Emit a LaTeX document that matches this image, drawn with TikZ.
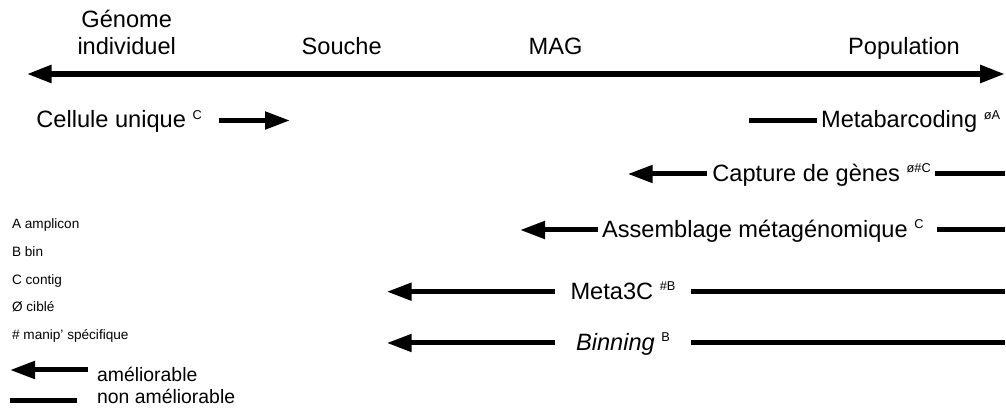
\documentclass[tikz,border=0pt]{standalone}
\usepackage{fontspec}
\setmainfont{Liberation Sans}
\usetikzlibrary{arrows.meta}

\newcommand{\expo}[1]{\raisebox{4.4pt}{\fontsize{6.4}{6.4}\selectfont #1}}

\begin{document}
\begin{tikzpicture}[x=0.5pt,y=-0.5pt,
  lbl/.style={font=\fontsize{11.8}{13.5}\selectfont,inner sep=0pt,anchor=west,text height=1.4ex,text depth=0pt},
  hdr/.style={font=\fontsize{11.8}{13.5}\selectfont,inner sep=0pt,anchor=base,align=center},
  key/.style={font=\fontsize{6.8}{8}\selectfont,inner sep=0pt,anchor=base west},
  leg/.style={font=\fontsize{9.7}{11}\selectfont,inner sep=0pt,anchor=base west},
  bar/.style={line width=2.5pt},
  ar/.style={bar,-{Triangle[length=12.5pt,width=8.5pt]}},
]
\useasboundingbox (0,0) rectangle (1006,410);

% echelle
\coordinate (axL) at (26.7,74);
\coordinate (axR) at (1005,74);
\draw[line width=2.8pt,{Triangle[length=12.5pt,width=8.5pt]}-{Triangle[length=12.5pt,width=8.5pt]}] (axL) -- (axR);

\node[hdr] (genome) at (126.7,55) {G\'enome\\individuel};
\node[hdr] (souche) at (341.7,55) {Souche};
\node[hdr] (mag)    at (555.5,55) {MAG};
\node[hdr] (popu)   at (904,55)   {Population};

% methodes
\node[lbl] (cell) at (36,120.5) {Cellule unique \expo{C}};
\coordinate (cellR) at (290,120.5);
\draw[ar,shorten <=8.5pt] (cell.east) -- (cellR);

\node[lbl] (meta) at (820.7,120.5) {Metabarcoding \expo{øA}};
\coordinate (metaL) at (749,120.5);
\draw[bar,shorten >=2pt] (metaL) -- (meta.west);

\node[lbl] (capt) at (712,174) {Capture de g\`enes \expo{ø\#C}};
\coordinate (captL) at (627.7,174);
\coordinate (captR) at (1005,174);
\draw[ar,shorten <=2.6pt] (capt.west) -- (captL);
\draw[bar,shorten <=1.7pt] (capt.east) -- (captR);

\node[lbl] (asm) at (601.7,230) {Assemblage m\'etag\'enomique \expo{C}};
\coordinate (asmL) at (520,230);
\coordinate (asmR) at (1005,230);
\draw[ar,shorten <=1.8pt] (asm.west) -- (asmL);
\draw[bar,shorten <=6.5pt] (asm.east) -- (asmR);

\node[lbl,anchor=center,minimum width=68pt] (m3c) at (623,291.7) {Meta3C \expo{\#B}};
\coordinate (m3cL) at (386.7,291.7);
\coordinate (m3cR) at (1005,291.7);
\draw[ar] (m3c.west) -- (m3cL);
\draw[bar] (m3c.east) -- (m3cR);

\node[lbl,anchor=center,minimum width=68pt] (bin) at (623,343) {\textit{Binning} \expo{B}};
\coordinate (binL) at (386.7,343);
\coordinate (binR) at (1005,343);
\draw[ar] (bin.west) -- (binL);
\draw[bar] (bin.east) -- (binR);

% legende
\node[key] (kA) at (11.7,229)   {A amplicon};
\node[key] (kB) at (11.7,256.7) {B bin};
\node[key] (kC) at (11.7,284.5) {C contig};
\node[key] (kD) at (11.7,312)   {Ø cibl\'e};
\node[key] (kE) at (11.7,340)   {\# manip' sp\'ecifique};

\draw[ar] (88,370) -- (10,370);
\draw[bar] (10,401) -- (77,401);
\node[leg] (amel)  at (96.7,381.7) {am\'eliorable};
\node[leg] (namel) at (96.7,404)   {non am\'eliorable};
\end{tikzpicture}
\end{document}
